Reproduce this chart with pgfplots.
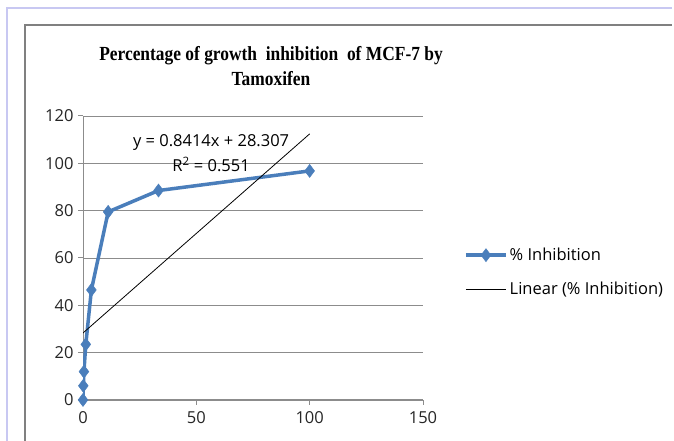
\documentclass[border=0pt]{standalone}
\usepackage{pgfplots}
\pgfplotsset{compat=1.18}
\usepackage{fontspec}
\setmainfont{Open Sans}
\newfontfamily\titlefont{Liberation Serif}
\definecolor{serblue}{HTML}{4A7EBB}
\definecolor{lav}{HTML}{C8C8F2}
\definecolor{framegray}{HTML}{808080}
\definecolor{gridgray}{HTML}{8C8C8C}
\begin{document}
\begin{tikzpicture}[x=1pt,y=1pt]
\path[use as bounding box] (0,0) rectangle (674,441);
\fill[white] (0,0) rectangle (674,441);
\draw[lav, line width=1.2pt] (7,0) -- (7,433) -- (672,433);
\draw[framegray, line width=1.2pt] (25,0) -- (25,416) -- (672,416);
\node[font=\titlefont\bfseries\fontsize{20}{25}\selectfont, align=center] at (271,375)
  {\scalebox{0.87}[1]{Percentage of growth\ \ inhibition\ \ of MCF-7 by}\\
   \scalebox{0.87}[1]{Tamoxifen}};
\begin{axis}[
  at={(83pt,41pt)}, anchor=south west,
  scale only axis, width=340pt, height=284pt,
  xmin=0, xmax=150, ymin=0, ymax=120,
  xtick={0,50,100,150}, ytick={0,20,...,120},
  axis lines*=left,
  axis line style={gridgray, line width=1pt},
  tick style={gridgray, line width=1pt},
  tick align=outside, major tick length=5pt,
  ymajorgrids, grid style={gridgray, line width=0.9pt},
  ticklabel style={font=\fontsize{16.5}{18}\selectfont, text=black!85},
  xticklabel style={yshift=-3pt},
  yticklabel style={xshift=-1pt},
  /pgf/number format/assume math mode=true,
  legend style={at={(1,0.45)}, anchor=west, xshift=38pt, draw=none,
    font=\fontsize{16.5}{18}\selectfont, row sep=16pt, fill=none},
  legend cell align=left,
  legend image code/.code={\draw[#1, mark repeat=2, mark phase=2]
    plot coordinates {(0pt,0pt) (20pt,0pt) (40pt,0pt)};},
]
\addplot[serblue, line width=3.5pt, mark=diamond*, mark size=6.5pt,
  mark options={line width=0.5pt}] coordinates {
  (0,0) (0.137,6) (0.41,12) (1.23,23.5) (3.7,46.5) (11.1,79.5) (33.3,88.5) (100,96.8)
};
\addlegendentry{\% Inhibition}
\addplot[black, line width=0.8pt] coordinates {(0,28.307) (100,112.447)};
\addlegendentry{Linear (\% Inhibition)}
\node[font=\fontsize{16.5}{18}\selectfont] at (axis cs:56.5,108.6) {y = 0.8414x + 28.307};
\node[font=\fontsize{16.5}{18}\selectfont] at (axis cs:56.5,99.5) {R\textsuperscript{2} = 0.551};
\end{axis}
\end{tikzpicture}
\end{document}
